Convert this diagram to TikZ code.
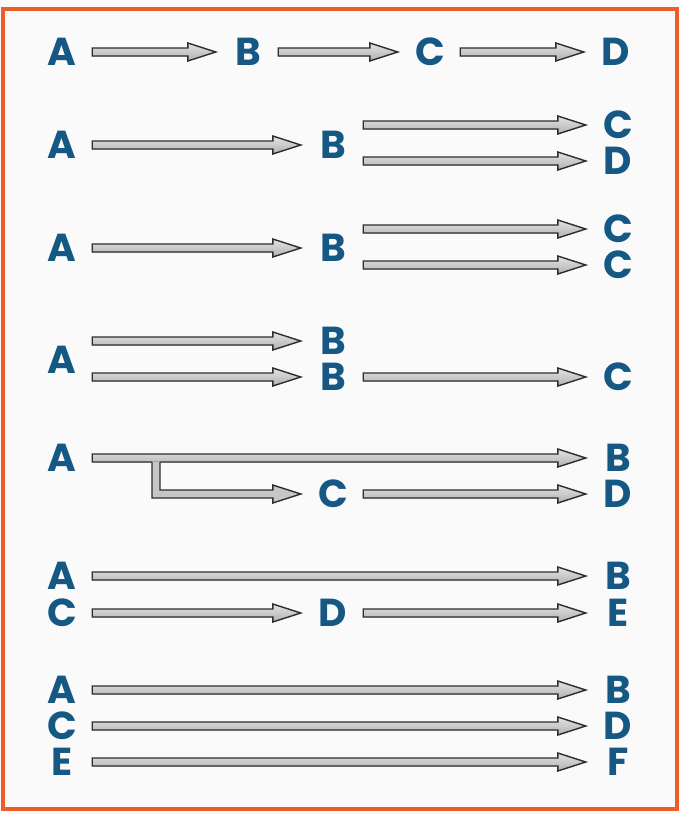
\documentclass[tikz,border=0pt]{standalone}
\usepackage{fontspec}
\setmainfont{Poppins}
\usetikzlibrary{calc}
\definecolor{letterblue}{RGB}{22,88,132}
\definecolor{frameorange}{RGB}{238,92,42}
\definecolor{arrowline}{RGB}{45,45,45}
\definecolor{arrowfill}{RGB}{208,208,208}
\definecolor{paper}{RGB}{250,250,250}
\tikzset{
  letter/.style={font=\fontsize{39}{39}\selectfont\bfseries, text=letterblue, inner sep=0pt, minimum width=40pt},
  fatshape/.style={top color=arrowfill!60!white, bottom color=arrowfill!85!black, draw=arrowline, line width=1.4pt, line join=miter},
  fatfill/.style={fill=arrowfill!95!black},
  fatedge/.style={draw=arrowline, line width=1.4pt, line join=miter},
}
\newcommand\fatarrow[2]{%
  \filldraw[fatshape] let \p1=(#1.east), \p2=(#2.west) in
  (\x1+10pt,\y2+4pt) -- (\x2-40pt,\y2+4pt) -- (\x2-40pt,\y2+9pt) -- (\x2-12pt,\y2)
  -- (\x2-40pt,\y2-9pt) -- (\x2-40pt,\y2-4pt) -- (\x1+10pt,\y2-4pt) -- cycle;}
\begin{document}
\begin{tikzpicture}[x=1pt,y=-1pt]
\useasboundingbox (0,0) rectangle (680,814);
\fill[paper] (0,0) rectangle (680,814);
\draw[frameorange, line width=3.5pt] (3,9) rectangle (677,809);

% row 1
\node[letter] (a1) at (62,52) {A};
\node[letter] (b1) at (248,52) {B};
\node[letter] (c1) at (430,52) {C};
\node[letter] (d1) at (616,52) {D};
\fatarrow{a1}{b1}
\fatarrow{b1}{c1}
\fatarrow{c1}{d1}

% row 2
\node[letter] (a2) at (62,145) {A};
\node[letter] (b2) at (333,145) {B};
\node[letter] (c2) at (618,125) {C};
\node[letter] (d2) at (618,161) {D};
\fatarrow{a2}{b2}
\fatarrow{b2}{c2}
\fatarrow{b2}{d2}

% row 3
\node[letter] (a3) at (62,248) {A};
\node[letter] (b3) at (333,248) {B};
\node[letter] (c3a) at (618,229) {C};
\node[letter] (c3b) at (618,265) {C};
\fatarrow{a3}{b3}
\fatarrow{b3}{c3a}
\fatarrow{b3}{c3b}

% row 4
\node[letter] (a4) at (62,360) {A};
\node[letter] (b4a) at (333,341) {B};
\node[letter] (b4b) at (333,377) {B};
\node[letter] (c4) at (618,377) {C};
\fatarrow{a4}{b4a}
\fatarrow{a4}{b4b}
\fatarrow{b4b}{c4}

% row 5
\node[letter] (a5) at (62,458) {A};
\node[letter] (b5) at (618,458) {B};
\node[letter] (c5) at (333,494) {C};
\node[letter] (d5) at (618,494) {D};
\coordinate (bend) at (156,458);
\fatarrow{a5}{b5}
\fill[fatfill] let \p1=(bend), \p2=(c5.west) in
  (\x1-4pt,\y1-3.3pt) -- (\x1-4pt,\y2-4pt) -- (\x2-40pt,\y2-4pt) -- (\x2-40pt,\y2-9pt)
  -- (\x2-12pt,\y2) -- (\x2-40pt,\y2+9pt) -- (\x2-40pt,\y2+4pt) -- (\x1+4pt,\y2+4pt)
  -- (\x1+4pt,\y1-3.3pt) -- cycle;
\draw[fatedge] let \p1=(bend), \p2=(c5.west) in
  (\x1-4pt,\y1-4pt) -- (\x1-4pt,\y2-4pt) -- (\x2-40pt,\y2-4pt) -- (\x2-40pt,\y2-9pt)
  -- (\x2-12pt,\y2) -- (\x2-40pt,\y2+9pt) -- (\x2-40pt,\y2+4pt) -- (\x1+4pt,\y2+4pt)
  -- (\x1+4pt,\y1-4pt);
\fatarrow{c5}{d5}

% row 6
\node[letter] (a6) at (62,576) {A};
\node[letter] (b6) at (618,576) {B};
\node[letter] (c6) at (62,613) {C};
\node[letter] (d6) at (333,613) {D};
\node[letter] (e6) at (618,613) {E};
\fatarrow{a6}{b6}
\fatarrow{c6}{d6}
\fatarrow{d6}{e6}

% row 7
\node[letter] (a7) at (62,690) {A};
\node[letter] (b7) at (618,690) {B};
\node[letter] (c7) at (62,726) {C};
\node[letter] (d7) at (618,726) {D};
\node[letter] (e7) at (62,762) {E};
\node[letter] (f7) at (618,762) {F};
\fatarrow{a7}{b7}
\fatarrow{c7}{d7}
\fatarrow{e7}{f7}
\end{tikzpicture}
\end{document}
